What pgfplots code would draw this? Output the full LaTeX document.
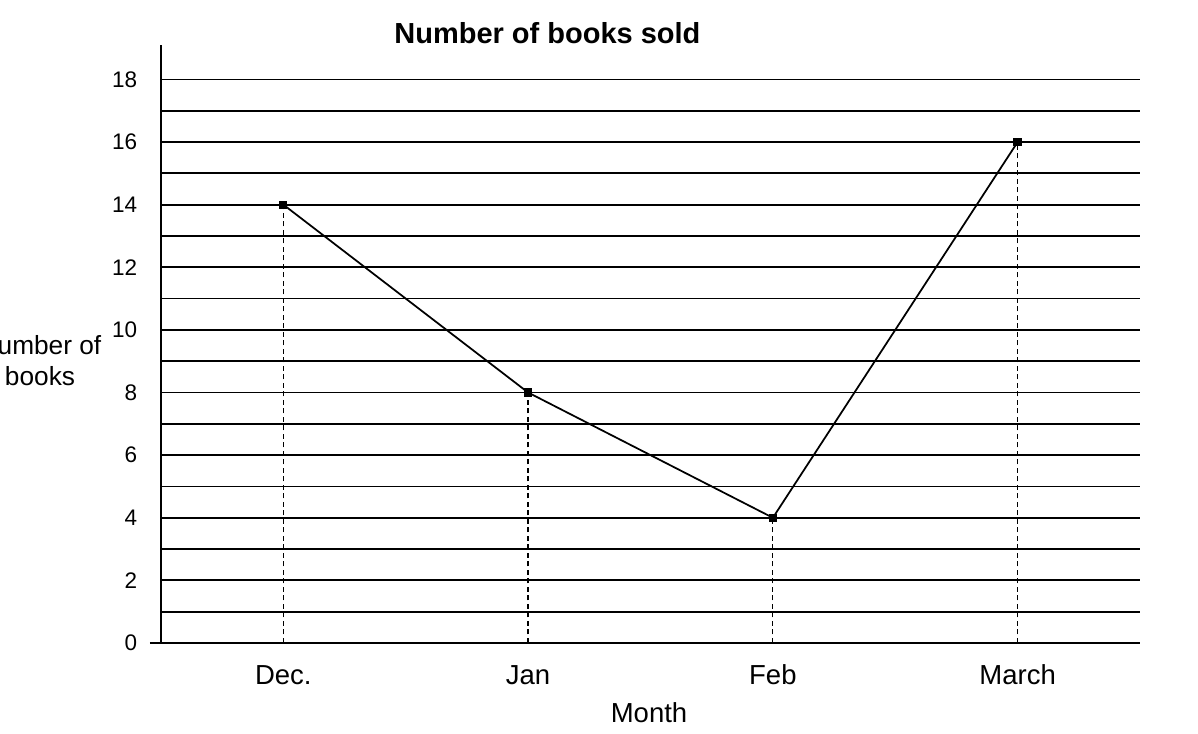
\documentclass[border=0pt]{standalone}
\usepackage{pgfplots}
\pgfplotsset{compat=1.18}
\usepackage{fontspec}
\setmainfont{Liberation Sans}

\begin{document}
\begin{tikzpicture}
  \begin{axis}[
    name=ax,
    scale only axis,
    width=391.6pt,
    height=239.2pt,
    xmin=0.5, xmax=4.5,
    ymin=0, ymax=19.1,
    axis x line*=bottom,
    axis y line*=left,
    axis line style={-, line width=0.8pt},
    xtick={1,2,3,4},
    xticklabels={Dec.,Jan,Feb,March},
    ytick={0,2,...,18},
    minor ytick={1,3,...,17},
    ymajorgrids, yminorgrids,
    grid style={black, line width=0.7pt},
    minor grid style={black, line width=0.7pt},
    major tick style={draw=none},
    minor tick style={draw=none},
    extra y ticks={0},
    extra y tick labels={},
    extra y tick style={major tick style={draw=black, line width=0.6pt}, major tick length=4.4pt, tick align=outside, grid=none},
    /pgf/number format/assume math mode=true,
    yticklabel style={font=\fontsize{9}{10}\selectfont, xshift=-6pt},
    xticklabel style={font=\fontsize{11}{12}\selectfont, text height=1.6ex, text depth=0.3ex, yshift=-4.5pt},
    xlabel={Month},
    xlabel style={font=\fontsize{11}{12}\selectfont, at={(axis description cs:0.4985,0)}, anchor=center, yshift=-28pt},
    ylabel={Number of\\books},
    ylabel style={font=\fontsize{10.5}{12.5}\selectfont, at={(axis description cs:-0.1236,0.4716)}, anchor=center, rotate=-90, align=center},
    title={\bfseries Number of books sold},
    title style={font=\fontsize{11.6}{13}\selectfont, at={(axis description cs:0.3947,1.02)}, anchor=center, yshift=-6pt},
    clip=false,
  ]
    \addplot[ycomb, black, line width=0.5pt, dash pattern=on 2pt off 1.4pt, mark=none]
      coordinates {(1,14) (2,8) (3,4) (4,16)};
    \addplot[black, line width=0.7pt, mark=square*, mark size=1.3pt]
      coordinates {(1,14) (2,8) (3,4) (4,16)};
  \end{axis}
  \pgfresetboundingbox
  \useasboundingbox (-64.4pt,-36.4pt) rectangle (414.8pt,257.2pt);
\end{tikzpicture}
\end{document}
